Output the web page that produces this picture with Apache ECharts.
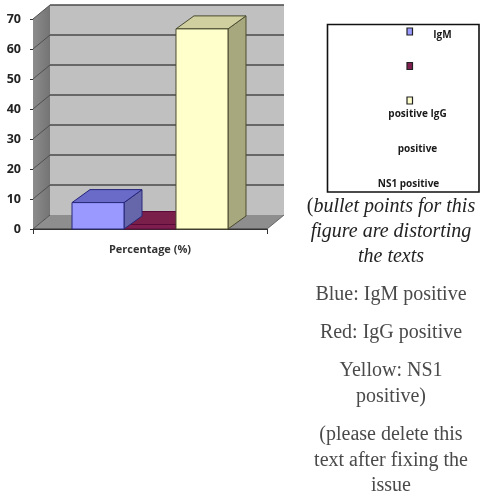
<!DOCTYPE html>
<html><head><meta charset="utf-8">
<style>html,body{margin:0;padding:0;background:#fff}#c{width:480px;height:498px;filter:blur(0.45px)}</style>
<script src="https://cdn.jsdelivr.net/npm/echarts@6/dist/echarts.min.js"></script>
</head><body><div id="c"></div>
<script>
const categories = ['Percentage (%)'];
const seriesNames = ['IgM positive', 'IgG positive', 'NS1 positive'];
const igmValues = [8.8];
const iggValues = [1.5];
const ns1Values = [66.7];
const yTicks = [0, 10, 20, 30, 40, 50, 60, 70];
const legendLabels = ['IgM', 'positive IgG', 'positive', 'NS1 positive'];
const noteItalic = ['(bullet points for this', 'figure are distorting', 'the texts'];
const notePlain = ['Blue: IgM positive', 'Red: IgG positive', 'Yellow: NS1', 'positive)', '(please delete this', 'text after fixing the', 'issue'];

const WDX = 17, WDY = 14, BDX = 18, BDY = 13;
const faces = [
  {front:'#9999ff', top:'#6a6ac8', side:'#6666aa', line:'#26267a'},
  {front:'#7f1f4f', top:'#7a1f4a', side:'#661a40', line:'#5a0a38'},
  {front:'#ffffcc', top:'#cfcf9f', side:'#a8a87e', line:'#4a4a30'}
];
const SANS = '"Open Sans","Noto Sans",sans-serif';

function poly(points, fill, stroke, lw) {
  return {type:'polygon', shape:{points}, style:{fill, stroke: stroke || null, lineWidth: lw || 0}};
}
function wallItem(params, api) {
  const cs = params.coordSys;
  const L = cs.x, R = cs.x + cs.width, B = cs.y + cs.height, T = cs.y;
  const kids = [
    poly([[L+WDX,T-WDY],[R+WDX,T-WDY],[R+WDX,B-WDY],[L+WDX,B-WDY]], '#c0c0c0'),
    poly([[L,T],[L+WDX,T-WDY],[L+WDX,B-WDY],[L,B]], {type:'linear',x:0,y:0,x2:1,y2:0,colorStops:[{offset:0,color:'#8c8c8c'},{offset:1,color:'#747474'}]}),
    poly([[L,B],[L+WDX,B-WDY],[R+WDX,B-WDY],[R,B]], '#8e8e8e')
  ];
  yTicks.forEach(v => {
    const y = api.coord([0, v])[1];
    if (v > 0) kids.push({type:'line', shape:{x1:L+WDX,y1:y-WDY,x2:R+WDX,y2:y-WDY}, style:{stroke:'#4a4a4a', lineWidth:1.5}});
    kids.push({type:'line', shape:{x1:L,y1:y,x2:L+WDX,y2:y-WDY}, style:{stroke:'#4f4f4f', lineWidth:1}});
  });
  kids.push({type:'line', shape:{x1:R,y1:B,x2:R+WDX,y2:B-WDY}, style:{stroke:'#666', lineWidth:1}});
  kids.push({type:'line', shape:{x1:L,y1:B,x2:R,y2:B}, style:{stroke:'#333', lineWidth:1}});
  return {type:'group', children:kids};
}
function barItem(idx) {
  return function (params, api) {
    const p = api.coord([0, api.value(1)]);
    const base = api.coord([0, 0])[1];
    const band = api.size([1, 0])[0];
    const w = band * 0.2222;
    const x0 = p[0] + (idx - 1.5) * w, x1 = x0 + w, y = p[1];
    const f = faces[idx], lw = 1;
    return {type:'group', children:[
      poly([[x1,y],[x1+BDX,y-BDY],[x1+BDX,base-BDY],[x1,base]], f.side, f.line, lw),
      poly([[x0,y],[x0+BDX,y-BDY],[x1+BDX,y-BDY],[x1,y]], f.top, f.line, lw),
      poly([[x0,y],[x1,y],[x1,base],[x0,base]], f.front, f.line, lw)
    ]};
  };
}
const valueLists = [igmValues, iggValues, ns1Values];
const drawOrder = [1, 0, 2];
const barSeries = drawOrder.map((i, n) => ({
  type:'custom', name:seriesNames[i], coordinateSystem:'cartesian2d', renderItem:barItem(i), z:3 + n,
  data:valueLists[i].map((v, k) => [k, v]), clip:false, encode:{x:0, y:1}
}));

const graphic = [];
graphic.push({type:'rect', shape:{x:327.5,y:24.5,width:151.5,height:167.5}, style:{fill:'#fff', stroke:'#111', lineWidth:1.6}, z:1});
[31.5, 66, 100.5].forEach((y, i) => graphic.push({type:'rect', shape:{x:407,y:y-3.5,width:5.5,height:7}, style:{fill:faces[i].front, stroke:'#222', lineWidth:1.2}, z:2}));
[[442.5,35],[417.5,114.5],[417.5,149.5],[408.5,184.5]].forEach((p, i) => graphic.push({type:'text', x:p[0], y:p[1], z:2,
  style:{text:legendLabels[i], fontFamily:SANS, fontWeight:'bold', fontSize:10, fill:'#1a1a1a', align:'center', verticalAlign:'middle'}}));
const cx = 391;
const SERIF = '"Liberation Serif",serif';
[207, 232, 257].forEach((y, i) => {
  const t = noteItalic[i], open = t[0] === '(';
  graphic.push({type:'text', x:cx, y, z:2, style:{
    text: open ? '{r|(}{i|' + t.slice(1) + '}' : '{i|' + t + '}',
    align:'center', verticalAlign:'middle',
    rich:{
      r:{fontFamily:SERIF, fontSize:20, fill:'#222'},
      i:{fontFamily:SERIF, fontStyle:'italic', fontSize:20, fill:'#222'}
    }}});
});
[295, 333, 371, 397, 435, 461, 486].forEach((y, i) => graphic.push({type:'text', x:cx, y, z:2,
  style:{text:notePlain[i], fontFamily:SERIF, fontSize:20, fill:'#4a4a4a', align:'center', verticalAlign:'middle'}}));

const chart = echarts.init(document.getElementById('c'), null, {renderer:'canvas'});
chart.setOption({
  animation:false,
  backgroundColor:'#fff',
  grid:{left:33, top:19, width:234, height:210, containLabel:false},
  xAxis:{type:'category', data:categories, boundaryGap:true,
    axisLine:{show:true, lineStyle:{color:'#333', width:1}},
    axisTick:{show:true, length:5, lineStyle:{color:'#333'}},
    axisLabel:{margin:15, fontFamily:SANS, fontWeight:'bold', fontSize:11, color:'#333'}},
  yAxis:{type:'value', min:0, max:70, interval:10,
    splitLine:{show:false},
    axisLine:{show:true, lineStyle:{color:'#333', width:1}},
    axisTick:{show:true, length:3, lineStyle:{color:'#333'}},
    axisLabel:{margin:12, fontFamily:SANS, fontWeight:'bold', fontSize:12.5, color:'#222', padding:[3,0,0,0]}},
  series:[{type:'custom', name:'wall', renderItem:wallItem, data:[[0,0]], z:1, clip:false, silent:true, encode:{x:0,y:1}}].concat(barSeries),
  graphic
});
</script></body></html>
